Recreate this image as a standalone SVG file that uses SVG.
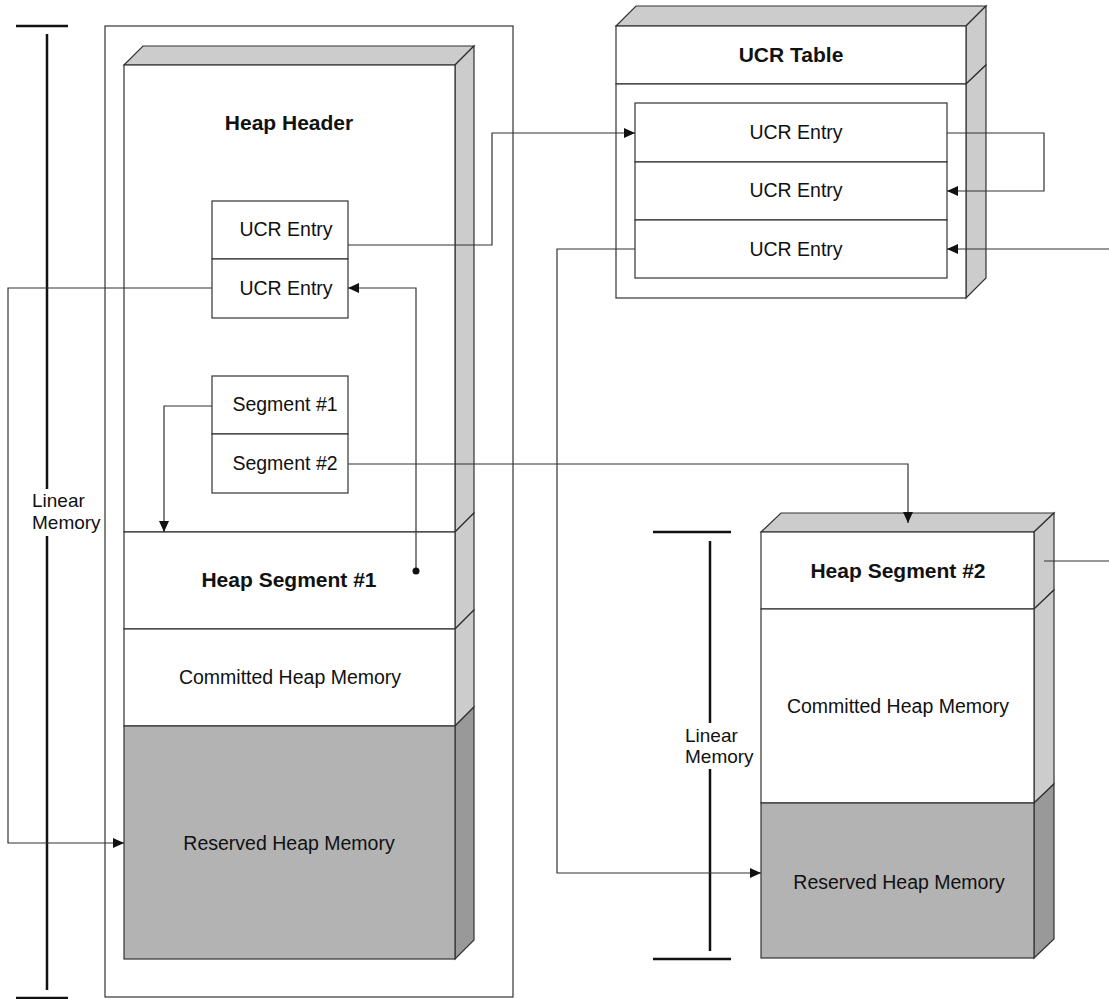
<svg xmlns="http://www.w3.org/2000/svg" width="1109" height="999" viewBox="0 0 1109 999">
<style>
.f{fill:#ffffff;stroke:#333333;stroke-width:1.2}
.s{fill:#cccccc;stroke:#333333;stroke-width:1.2}
.rf{fill:#b3b3b3;stroke:#333333;stroke-width:1.2}
.rs{fill:#999999;stroke:#333333;stroke-width:1.2}
.frame{fill:none;stroke:#333333;stroke-width:1.2}
.t{font-family:"Liberation Sans",Arial,sans-serif;font-size:19.5px;fill:#111111;text-anchor:middle}
.b{font-family:"Liberation Sans",Arial,sans-serif;font-size:21px;font-weight:bold;fill:#111111;text-anchor:middle}
.l{font-family:"Liberation Sans",Arial,sans-serif;font-size:19px;fill:#111111}
.bar{stroke:#111111;stroke-width:2.5;fill:none}
.c{fill:none;stroke:#333333;stroke-width:1.2}
</style>
<defs>
<marker id="ah" markerUnits="userSpaceOnUse" markerWidth="11" markerHeight="11" refX="11" refY="5.5" orient="auto">
<path d="M0,0.5 L11,5.5 L0,10.5 z" fill="#111111"/>
</marker>
</defs>

<g id="heap-frame">
<rect class="frame" x="105" y="26" width="408" height="971"/>
</g>

<g id="heap-header">
<polygon class="s" points="124,65 143,46 474,46 455,65"/>
<polygon class="s" points="455,65 474,46 474,513 455,532"/>
<rect class="f" x="124" y="65" width="331" height="467"/>
<text class="b" x="289" y="130">Heap Header</text>
</g>

<g id="header-ucr-entries">
<rect class="f" x="212" y="201" width="136" height="58"/>
<rect class="f" x="212" y="259" width="136" height="59"/>
<text class="t" x="286" y="236">UCR Entry</text>
<text class="t" x="286" y="295">UCR Entry</text>
</g>

<g id="header-segments">
<rect class="f" x="212" y="376" width="136" height="58"/>
<rect class="f" x="212" y="434" width="136" height="59"/>
<text class="t" x="285" y="411">Segment #1</text>
<text class="t" x="285" y="470">Segment #2</text>
</g>

<g id="heap-segment-1">
<polygon class="s" points="455,532 474,513 474,610 455,629"/>
<rect class="f" x="124" y="532" width="331" height="97"/>
<text class="b" x="289" y="587">Heap Segment #1</text>
</g>

<g id="committed-1">
<polygon class="s" points="455,629 474,610 474,707 455,726"/>
<rect class="f" x="124" y="629" width="331" height="97"/>
<text class="t" x="290" y="684">Committed Heap Memory</text>
</g>

<g id="reserved-1">
<polygon class="rs" points="455,726 474,707 474,940 455,959"/>
<rect class="rf" x="124" y="726" width="331" height="233"/>
<text class="t" x="289" y="850">Reserved Heap Memory</text>
</g>

<g id="ucr-table">
<polygon class="s" points="616,26 636,6 986,6 966,26"/>
<polygon class="s" points="966,26 986,6 986,65 966,84"/>
<polygon class="s" points="966,84 986,65 986,278 966,298"/>
<rect class="f" x="616" y="26" width="350" height="58"/>
<rect class="f" x="616" y="84" width="350" height="214"/>
<text class="b" x="791" y="62">UCR Table</text>
</g>

<g id="table-ucr-entries">
<rect class="f" x="635" y="103" width="312" height="59"/>
<rect class="f" x="635" y="162" width="312" height="58"/>
<rect class="f" x="635" y="220" width="312" height="58"/>
<text class="t" x="796" y="139">UCR Entry</text>
<text class="t" x="796" y="197">UCR Entry</text>
<text class="t" x="796" y="256">UCR Entry</text>
</g>

<g id="heap-segment-2">
<polygon class="s" points="761,532 781,513 1054,513 1034,532"/>
<polygon class="s" points="1034,532 1054,513 1054,590 1034,609"/>
<rect class="f" x="761" y="532" width="273" height="77"/>
<text class="b" x="898" y="578">Heap Segment #2</text>
</g>

<g id="committed-2">
<polygon class="s" points="1034,609 1054,590 1054,784 1034,803"/>
<rect class="f" x="761" y="609" width="273" height="194"/>
<text class="t" x="898" y="713">Committed Heap Memory</text>
</g>

<g id="reserved-2">
<polygon class="rs" points="1034,803 1054,784 1054,939 1034,958"/>
<rect class="rf" x="761" y="803" width="273" height="155"/>
<text class="t" x="899" y="889">Reserved Heap Memory</text>
</g>

<g id="linear-memory-1">
<line class="bar" x1="16" y1="26" x2="68" y2="26"/>
<line class="bar" x1="47" y1="34" x2="47" y2="489"/>
<line class="bar" x1="47" y1="536" x2="47" y2="990"/>
<line class="bar" x1="16" y1="998" x2="68" y2="998"/>
<text class="l" x="32" y="507">Linear</text>
<text class="l" x="32" y="529">Memory</text>
</g>

<g id="linear-memory-2">
<line class="bar" x1="653" y1="532" x2="731" y2="532"/>
<line class="bar" x1="710" y1="541" x2="710" y2="723"/>
<line class="bar" x1="710" y1="769" x2="710" y2="951"/>
<line class="bar" x1="653" y1="959" x2="731" y2="959"/>
<text class="l" x="685" y="742">Linear</text>
<text class="l" x="685" y="763">Memory</text>
</g>

<g id="connectors">
<path class="c" d="M348,245 H492 V133 H635" marker-end="url(#ah)"/>
<path class="c" d="M947,133 H1044 V191 H947" marker-end="url(#ah)"/>
<path class="c" d="M1109,249 H947" marker-end="url(#ah)"/>
<path class="c" d="M635,249 H557 V873 H761" marker-end="url(#ah)"/>
<path class="c" d="M212,288 H8 V843 H124" marker-end="url(#ah)"/>
<path class="c" d="M416,571 V288 H348" marker-end="url(#ah)"/>
<circle cx="416" cy="571" r="3.5" fill="#111111"/>
<path class="c" d="M212,406 H164 V532" marker-end="url(#ah)"/>
<path class="c" d="M348,464 H908 V523" marker-end="url(#ah)"/>
<path class="c" d="M1044,561 H1109"/>
</g>
</svg>
